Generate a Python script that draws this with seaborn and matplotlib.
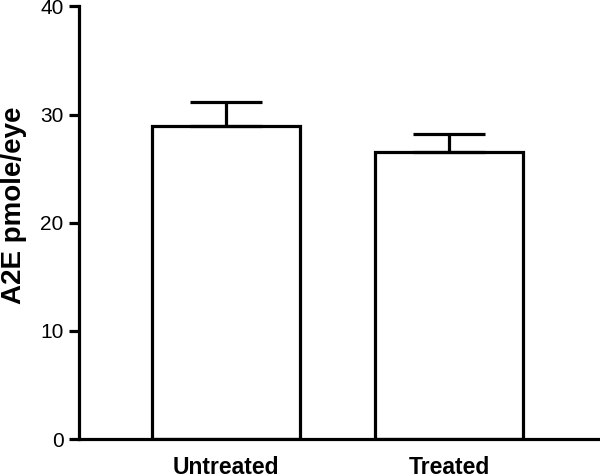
import numpy as np
import pandas as pd
import seaborn as sns
import matplotlib
matplotlib.use("Agg")
import matplotlib.pyplot as plt

# Datos
groups = ["Untreated", "Treated"]
means = [28.9, 26.5]
upper_err = [2.3, 1.7]

df = pd.DataFrame({"group": groups, "a2e": means})

sns.set_style("ticks")
plt.rcParams["font.family"] = ["Liberation Sans", "DejaVu Sans"]
plt.rcParams["text.color"] = "black"
plt.rcParams["axes.labelcolor"] = "black"
plt.rcParams["xtick.color"] = "black"
plt.rcParams["ytick.color"] = "black"
plt.rcParams["axes.edgecolor"] = "black"

fig = plt.figure(figsize=(6, 4.76), dpi=100)
ax = fig.add_axes([0.1317, 0.0777, 0.865, 0.909])

sns.barplot(data=df, x="group", y="a2e", ax=ax, color="white",
            edgecolor="black", linewidth=2.3, width=0.664, errorbar=None)

# solo la barra de error superior
ax.errorbar(np.arange(len(groups)), means,
            yerr=[np.zeros(len(groups)), upper_err],
            fmt="none", ecolor="black", elinewidth=2.3,
            capsize=26, capthick=2.3, zorder=1)

ax.set_ylim(0, 40)
ax.set_xlim(-0.659, 1.668)
ax.set_yticks([0, 10, 20, 30, 40])
ax.set_xlabel("")
ax.set_ylabel("A2E pmole/eye", fontsize=20, fontweight="bold")
ax.yaxis.set_label_coords(-0.1, 0.54)

sns.despine(ax=ax)
for s in ["left", "bottom"]:
    ax.spines[s].set_linewidth(2.3)
ax.tick_params(axis="y", width=2.3, length=7, labelsize=15, pad=4)
ax.tick_params(axis="x", length=0, labelsize=16.5, pad=12)
for lbl in ax.get_xticklabels():
    lbl.set_fontweight("bold")

fig.savefig("out.png", dpi=100)
